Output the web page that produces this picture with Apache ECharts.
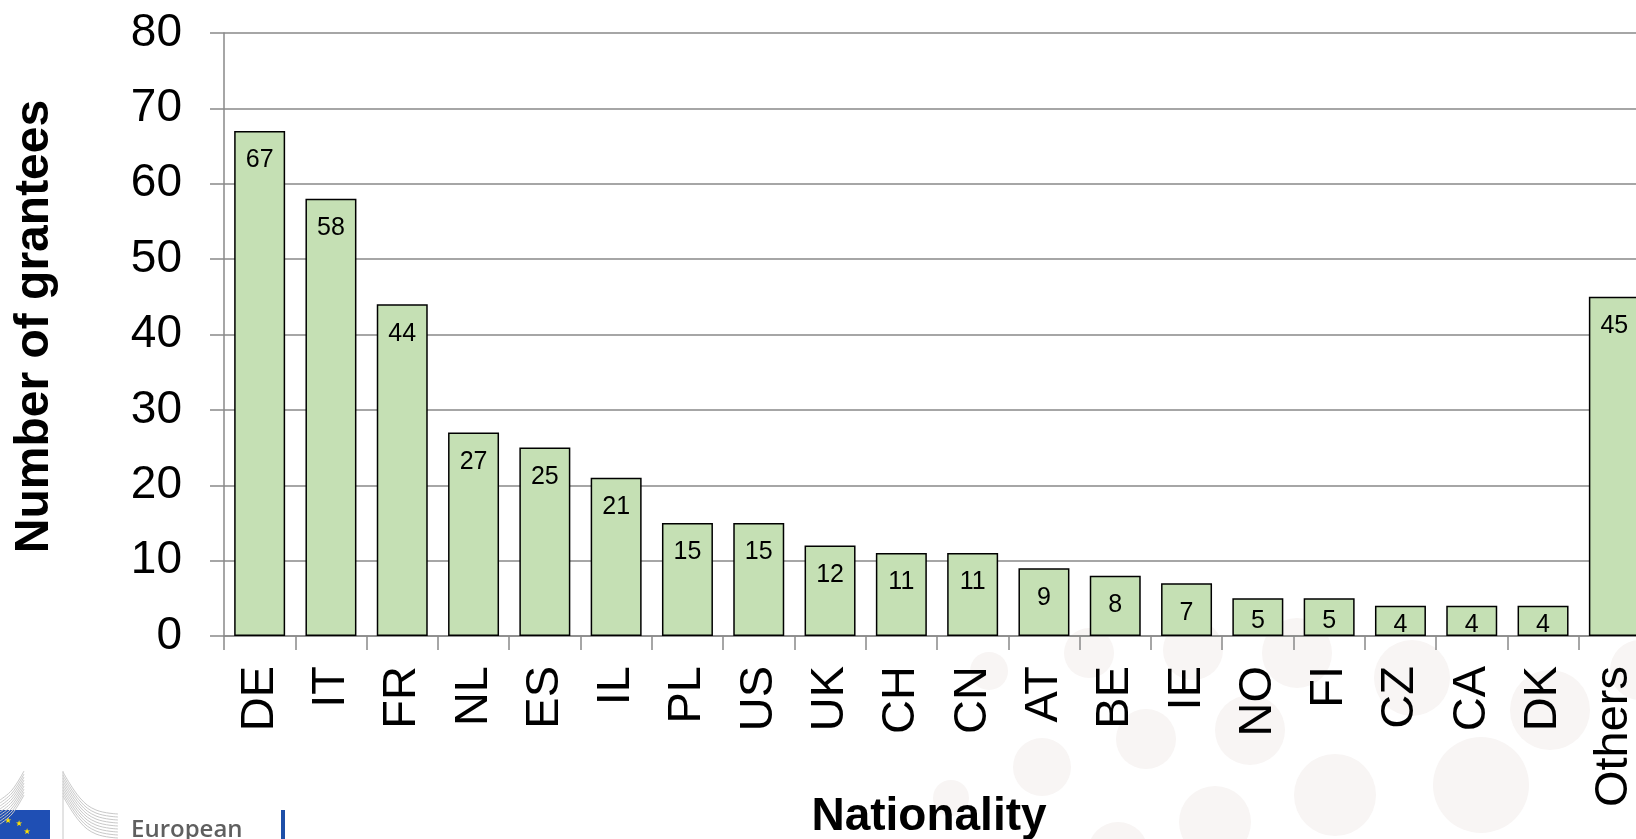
<!DOCTYPE html>
<html>
<head>
<meta charset="utf-8">
<script src="https://cdn.jsdelivr.net/npm/echarts@6/dist/echarts.min.js"></script>
<style>
  html, body { margin: 0; padding: 0; background: #fff; overflow: hidden; }
  #chart { position: absolute; left: 0; top: 0; width: 1660px; height: 839px; }
</style>
</head>
<body>
<div id="chart"></div>
<script>
// grantees per nationality
const countries = ['DE', 'IT', 'FR', 'NL', 'ES', 'IL', 'PL', 'US', 'UK', 'CH',
  'CN', 'AT', 'BE', 'IE', 'NO', 'FI', 'CZ', 'CA', 'DK', 'Others'];
const grantees = [67, 58, 44, 27, 25, 21, 15, 15, 12, 11, 11, 9, 8, 7, 5, 5, 4, 4, 4, 45];

const FONT = '"Liberation Sans", Arial, sans-serif';
const GREY = '#898989';

// faint slide background dots
const dots = [
  [989, 671, 19], [1042, 767, 29], [1089, 653, 25], [1146, 739, 30], [1193, 650, 30],
  [1250, 730, 35], [1297, 653, 35], [1335, 795, 41], [1412, 678, 38], [1481, 785, 48],
  [1550, 710, 40], [951, 798, 18], [1215, 822, 36], [1118, 852, 30], [1640, 670, 30]
];

const chart = echarts.init(document.getElementById('chart'), null, { renderer: 'canvas' });

const starEls = [];
for (let i = 0; i < 12; i++) {
  const a = (i * 30 - 90) * Math.PI / 180;
  starEls.push({
    type: 'text',
    z: 1,
    style: {
      x: 8 + 22 * Math.cos(a),
      y: 843 + 22 * Math.sin(a),
      text: '★',
      fill: '#ffe100',
      fontSize: 8,
      fontFamily: 'DejaVu Sans',
      align: 'center',
      verticalAlign: 'middle',
    },
  });
}

const buildingLines = [];
for (let i = 0; i < 9; i++) {
  buildingLines.push({
    type: 'polyline',
    z: 1,
    shape: { points: [[63, 772 + i * 3], [80, 798 + i * 3], [96, 810 + i * 3], [118, 814 + i * 3]], smooth: 0.4 },
    style: { stroke: '#c8c8c8', lineWidth: 1, fill: null },
  });
  buildingLines.push({
    type: 'polyline',
    z: 1,
    shape: { points: [[24, 771 + i * 3], [12, 790 + i * 3], [0, 800 + i * 3]], smooth: 0.4 },
    style: { stroke: '#c8c8c8', lineWidth: 1, fill: null },
  });
}

chart.setOption({
  animation: false,
  backgroundColor: '#ffffff',
  grid: {
    left: 224,
    right: 10,
    top: 33,
    bottom: 203,
    outerBoundsMode: 'none',
    containLabel: false,
  },
  graphic: [
    ...dots.map(([cx, cy, r]) => ({
      type: 'circle',
      z: -10,
      silent: true,
      shape: { cx, cy, r },
      style: { fill: '#f8f5f4' },
    })),
    {
      type: 'rect',
      z: 1,
      shape: { x: 0, y: 810, width: 50, height: 30 },
      style: { fill: '#1f4fb4' },
    },
    ...starEls,
    {
      type: 'line',
      z: 1,
      shape: { x1: 63, y1: 771, x2: 63, y2: 839 },
      style: { stroke: '#c8c8c8', lineWidth: 1 },
    },
    ...buildingLines,
    {
      type: 'text',
      z: 1,
      style: {
        x: 131,
        y: 842,
        text: 'European',
        fill: '#5f5f5f',
        fontSize: 24,
        fontWeight: 600,
        fontFamily: 'Open Sans',
        verticalAlign: 'bottom',
      },
    },
    {
      type: 'rect',
      z: 1,
      shape: { x: 281, y: 810, width: 4, height: 30 },
      style: { fill: '#1d4fa8' },
    },
  ],
  xAxis: {
    type: 'category',
    data: countries,
    name: 'Nationality',
    nameLocation: 'middle',
    nameGap: 158,
    nameMoveOverlap: false,
    nameTextStyle: {
      fontFamily: FONT,
      fontSize: 46,
      fontWeight: 'bold',
      color: '#000',
      padding: [0, 16, 0, 0],
    },
    axisLine: { lineStyle: { color: GREY, width: 1.5 } },
    axisTick: { show: true, length: 14, lineStyle: { color: GREY, width: 1.5 } },
    axisLabel: {
      rotate: 90,
      margin: 30,
      fontFamily: FONT,
      fontSize: 47,
      color: '#000',
      interval: 0,
    },
  },
  yAxis: {
    type: 'value',
    min: 0,
    max: 80,
    interval: 10,
    name: 'Number of grantees',
    nameLocation: 'middle',
    nameGap: 165,
    nameMoveOverlap: false,
    nameTextStyle: {
      fontFamily: FONT,
      fontSize: 48,
      fontWeight: 'bold',
      color: '#000',
      padding: [0, 0, 0, 16],
    },
    axisLine: { show: true, lineStyle: { color: GREY, width: 1.5 } },
    axisTick: { show: true, length: 14, lineStyle: { color: GREY, width: 1.5 } },
    axisLabel: {
      margin: 42,
      fontFamily: FONT,
      fontSize: 46,
      color: '#000',
    },
    splitLine: { show: true, lineStyle: { color: GREY, width: 1.5 } },
  },
  series: [{
    type: 'bar',
    barCategoryGap: '28.5%',
    itemStyle: {
      color: '#c5e0b4',
      borderColor: '#000',
      borderWidth: 1.5,
    },
    label: {
      show: true,
      position: 'insideTop',
      distance: 17,
      fontFamily: FONT,
      fontSize: 25,
      color: '#000',
    },
    // short bars get their label centred, like the original
    data: grantees.map(v => (v < 6
      ? { value: v, label: { position: 'inside', offset: [0, 4] } }
      : v)),
  }],
});
</script>
</body>
</html>
